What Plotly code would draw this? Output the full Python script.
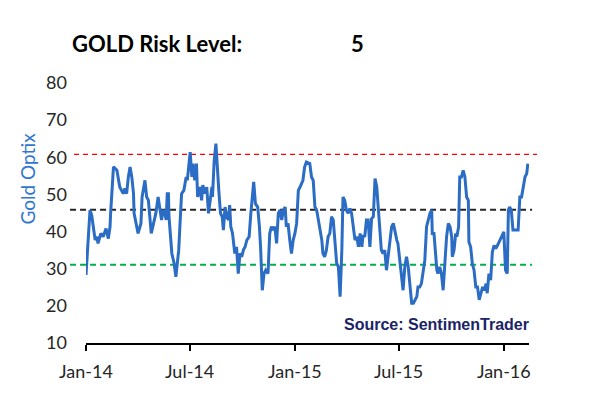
import pandas as pd
import plotly.graph_objects as go

# ---- data ----
days_since_2014 = [
    0, 2, 7, 10, 16, 19, 21, 26, 30, 35, 39, 42, 43, 48, 54, 59, 65, 68, 71, 74, 77, 80, 83, 84,
    89, 91, 96, 98, 103, 106, 109, 112, 114, 118, 122, 126, 129, 132, 135, 138, 140, 142, 144, 145,
    150, 154, 157, 159, 162, 164, 167, 171, 175, 177, 180,
    182, 185, 187, 190, 193, 195, 199, 202, 204, 208, 211, 214, 217, 220, 221, 224, 227, 229, 232,
    235, 238, 240, 243, 246, 249, 251, 253, 256, 260, 263, 266, 269, 272, 275, 278, 281, 285, 288,
    291, 293, 296, 300, 303, 305, 308, 311, 314, 318, 321, 324, 327, 330, 333, 336, 339, 342, 345,
    348, 350, 353, 356, 359, 362, 365, 368, 371, 374, 377, 379, 382, 385,
    391, 394, 397, 400, 403, 406, 409, 412, 414, 417, 420, 423, 426, 429, 432, 435, 438, 441, 444,
    447, 449, 452, 455, 458, 461, 464, 467, 470, 473, 476, 479, 482, 484, 487, 490, 493, 496, 499,
    502, 505, 508, 511, 513, 516, 519, 522, 525, 528, 531, 534, 537, 540, 543, 545, 548, 551, 554,
    557, 560, 563, 566, 569, 572, 575, 578, 580,
    583, 586, 589, 592, 595, 598, 601, 604, 605, 608, 610, 613, 615, 618, 621, 624, 627, 630, 633,
    636, 639, 640, 643, 646, 648, 651, 653, 656, 659, 662, 665, 668, 669, 672, 675, 678, 681, 684,
    687, 690, 693, 696, 699, 701, 704, 707, 710, 713, 716, 719, 722, 725, 728, 730, 733, 736, 738,
    740, 743, 746, 749, 752, 755, 758, 761, 764, 767, 770, 772,
]
gold_optix = [
    28.3, 33.7, 45.8, 44.4, 37.7, 38.6, 36.8, 39.5, 38.6, 40.8, 38.1, 41.3, 44.9, 57.4, 56.5, 52.0,
    50.2, 51.6, 50.2, 54.7, 57.4, 54.7, 50.2, 44.9, 40.4, 39.5, 42.2, 49.3, 53.8, 49.3, 48.4, 43.1,
    39.5, 42.2, 44.9, 49.3, 45.8, 43.1, 45.8, 44.9, 43.1, 50.2, 50.2, 44.0, 34.1, 31.4, 27.8, 31.4,
    35.0, 41.3, 50.2, 51.1, 54.7, 53.8, 57.4,
    61.4, 54.7, 58.3, 53.8, 58.3, 49.3, 52.0, 48.4, 52.5, 50.2, 52.0, 44.9, 49.3, 52.0, 49.3, 59.2,
    63.7, 57.4, 51.1, 44.9, 44.0, 40.4, 46.6, 44.0, 43.1, 47.1, 41.3, 39.5, 34.1, 35.9, 28.7, 34.1,
    33.2, 35.0, 35.9, 37.7, 38.6, 44.9, 49.3, 53.4, 47.5, 46.6, 41.3, 35.9, 24.2, 28.7, 29.6, 28.7,
    39.5, 41.3, 40.4, 41.3, 36.8, 44.9, 45.8, 43.1, 45.8, 46.6, 41.3, 42.2, 37.7, 34.1, 37.7, 39.5,
    42.2, 51.1, 52.0, 52.9, 53.8, 57.4, 58.7,
    58.3, 54.7, 53.8, 46.6, 45.8, 43.1, 41.3, 37.7, 34.1, 33.2, 35.0, 38.6, 39.5, 44.0, 43.1, 36.8,
    31.4, 30.5, 22.5, 35.0, 49.3, 48.4, 45.8, 44.9, 46.2, 44.9, 41.3, 37.7, 38.6, 35.9, 39.5, 35.9,
    39.0, 38.6, 43.1, 43.1, 35.9, 43.5, 44.0, 54.3, 52.0, 45.8, 39.5, 35.0, 34.1, 35.0, 29.6, 34.1,
    36.8, 41.3, 42.2, 39.5, 37.7, 36.8, 32.3, 28.7, 24.2, 30.5, 33.2, 30.5, 26.0, 20.7, 20.7, 21.6,
    22.5, 25.1,
    25.1, 26.0, 29.6, 32.3, 41.3, 43.1, 44.9, 45.8, 39.5, 39.5, 35.0, 29.6, 28.7, 30.5, 28.7, 24.2,
    31.4, 38.6, 42.2, 41.3, 38.6, 33.2, 35.0, 39.5, 38.6, 41.3, 54.7, 54.7, 56.5, 54.7, 49.3, 48.4,
    37.2, 35.9, 31.4, 29.6, 25.1, 25.1, 21.6, 23.4, 25.1, 24.2, 26.0, 23.4, 28.7, 26.9, 34.5, 36.3,
    35.4, 36.3, 37.2, 38.1, 39.0, 39.9, 29.6, 28.7, 45.8, 46.6, 45.8, 40.4, 40.4, 40.4, 40.4, 49.3,
    49.3, 52.0, 54.7, 55.6, 58.3,
]
high_risk_level = 60.8
mid_level = 45.9
low_risk_level = 31.1
risk_level = "5"
tick_dates = ["2014-01-01", "2014-07-01", "2015-01-01", "2015-07-01", "2016-01-01"]
tick_labels = ["Jan-14", "Jul-14", "Jan-15", "Jul-15", "Jan-16"]
y_ticks = [10, 20, 30, 40, 50, 60, 70, 80]

dates = pd.Timestamp("2014-01-01") + pd.to_timedelta(days_since_2014, unit="D")

fig = go.Figure()
fig.add_trace(go.Scatter(
    x=dates, y=gold_optix, mode="lines",
    line=dict(color="#2b6cc4", width=3),
    showlegend=False, hoverinfo="skip",
))

def hline(y, color, width, dash, x0, x1):
    fig.add_shape(type="line", xref="paper", yref="y", x0=x0, x1=x1, y0=y, y1=y,
                  line=dict(color=color, width=width, dash=dash), layer="below")

hline(high_risk_level, "#ff0000", 1.3, "5px,4px", -0.027, 1.018)
hline(mid_level, "#262626", 2, "6px,4px", -0.036, 1.007)
hline(low_risk_level, "#00b050", 2, "6px,4px", -0.036, 1.007)

tick_font = dict(family="Lato, sans-serif", size=18, color="#262626")

# the page body adds an 8px offset, so the figure is 592x388 and fills the 600x396 window
fig.update_layout(
    width=592, height=388,
    margin=dict(l=78, r=71, t=75, b=53, autoexpand=False),
    paper_bgcolor="white", plot_bgcolor="white",
    xaxis=dict(
        type="date", range=["2014-01-01", "2016-02-14"],
        tickvals=tick_dates, ticktext=tick_labels,
        showgrid=False, zeroline=False,
        showline=True, linecolor="#000000", linewidth=1.5,
        ticks="outside", ticklen=6, tickwidth=1.5, tickcolor="#000000",
        tickfont=tick_font, ticklabelstandoff=6, automargin=False,
    ),
    yaxis=dict(
        range=[10, 80], tickvals=y_ticks,
        showgrid=False, zeroline=False, showline=False,
        ticks="", tickfont=tick_font, ticklabelstandoff=18, automargin=False,
    ),
    annotations=[
        dict(text="<b>GOLD Risk Level:</b>", xref="paper", yref="paper",
             x=-0.036, y=(343 - 43) / 260, xanchor="left", yanchor="middle",
             showarrow=False, font=dict(family="Lato, sans-serif", size=22, color="#000000")),
        dict(text="<b>" + risk_level + "</b>", xref="paper", yref="paper",
             x=(357 - 86) / 443, y=(343 - 43) / 260, xanchor="center", yanchor="middle",
             showarrow=False, font=dict(family="Lato, sans-serif", size=22, color="#000000")),
        dict(text="Gold Optix", xref="paper", yref="paper",
             x=(27 - 86) / 443, y=(343 - 178.5) / 260, xanchor="center", yanchor="middle",
             textangle=-90, showarrow=False,
             font=dict(family="Lato, sans-serif", size=19, color="#2f76cf")),
        dict(text="<b>Source: SentimenTrader</b>", xref="paper", yref="paper",
             x=(531 - 86) / 443, y=(343 - 324) / 260, xanchor="right", yanchor="middle",
             showarrow=False,
             font=dict(family="Liberation Sans, Arial, sans-serif", size=16, color="#1a2466")),
    ],
)

fig.write_html("out.html")
